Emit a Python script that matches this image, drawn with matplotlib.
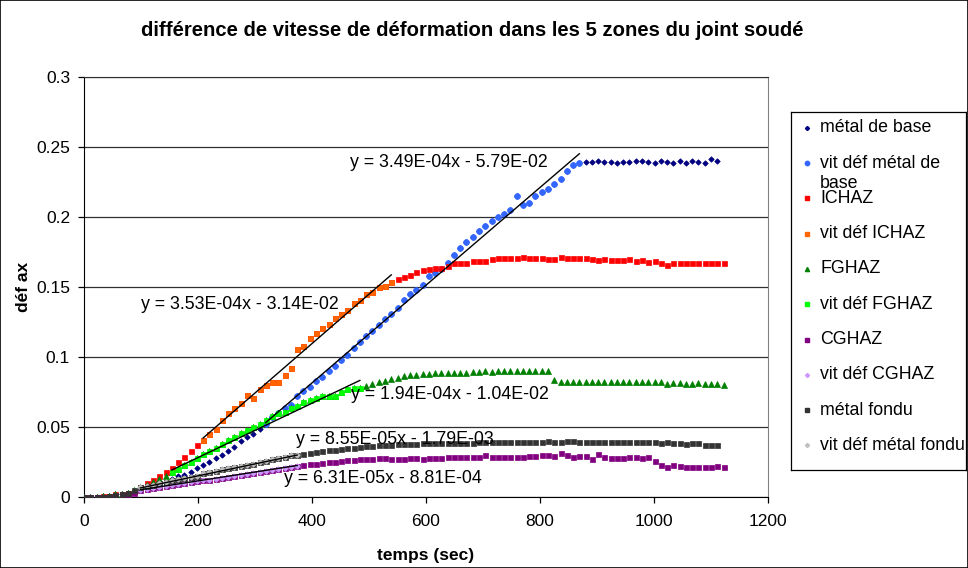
import matplotlib
matplotlib.use("Agg")
import matplotlib.pyplot as plt
from matplotlib.patches import Rectangle
from matplotlib.ticker import FuncFormatter

plt.rcParams['font.family'] = ['Liberation Sans', 'DejaVu Sans']

# time grid (sec), one reading every ~11 s
temps = list(range(0, 1123, 11))

# deformation readings per zone
metal_base = [0.000, 0.000, 0.000, 0.001, 0.001, 0.002, 0.002, 0.003, 0.004, 0.005,
              0.006, 0.007, 0.009, 0.011, 0.013, 0.015, 0.016, 0.018, 0.021, 0.023,
              0.025, 0.028, 0.030, 0.033, 0.036, 0.040, 0.043, 0.045, 0.049, 0.052,
              0.057, 0.060, 0.064, 0.066, 0.072, 0.076, 0.079, 0.083, 0.086, 0.090,
              0.094, 0.098, 0.102, 0.107, 0.111, 0.115, 0.119, 0.123, 0.127, 0.131,
              0.135, 0.141, 0.145, 0.148, 0.152, 0.158, 0.160, 0.163, 0.167, 0.173,
              0.178, 0.182, 0.186, 0.190, 0.194, 0.197, 0.200, 0.202, 0.205, 0.215,
              0.209, 0.210, 0.215, 0.218, 0.220, 0.224, 0.227, 0.233, 0.237, 0.239,
              0.2397, 0.2397, 0.2405, 0.2397, 0.2395, 0.2386, 0.2395, 0.2395, 0.2400, 0.2400,
              0.2395, 0.2386, 0.2400, 0.2395, 0.2390, 0.2400, 0.2390, 0.2405, 0.2397, 0.2386,
              0.2414, 0.2400]

ichaz = [0.000, 0.000, 0.000, 0.001, 0.001, 0.002, 0.002, 0.003, 0.004, 0.007,
         0.010, 0.012, 0.015, 0.018, 0.021, 0.025, 0.029, 0.033, 0.037, 0.041,
         0.045, 0.049, 0.055, 0.060, 0.064, 0.067, 0.073, 0.071, 0.077, 0.080,
         0.082, 0.082, 0.087, 0.092, 0.106, 0.108, 0.114, 0.117, 0.121, 0.124,
         0.128, 0.131, 0.134, 0.139, 0.141, 0.145, 0.147, 0.150, 0.151, 0.154,
         0.156, 0.157, 0.159, 0.161, 0.162, 0.163, 0.164, 0.164, 0.165, 0.167,
         0.167, 0.167, 0.169, 0.169, 0.169, 0.170, 0.171, 0.171, 0.171, 0.171,
         0.172, 0.171, 0.171, 0.171, 0.170, 0.170, 0.172, 0.171, 0.171, 0.171,
         0.171, 0.170, 0.1695, 0.1705, 0.1695, 0.1695, 0.1695, 0.170, 0.169, 0.1695,
         0.168, 0.169, 0.1675, 0.166, 0.1675, 0.1675, 0.1675, 0.1675, 0.1675, 0.1675,
         0.1675, 0.167, 0.1675]

fghaz = [0.000, 0.000, 0.000, 0.001, 0.001, 0.002, 0.002, 0.003, 0.005, 0.007,
         0.009, 0.011, 0.013, 0.015, 0.018, 0.020, 0.023, 0.025, 0.028, 0.031,
         0.033, 0.035, 0.038, 0.041, 0.043, 0.046, 0.048, 0.050, 0.052, 0.055,
         0.058, 0.060, 0.061, 0.064, 0.065, 0.068, 0.0695, 0.071, 0.072, 0.0725,
         0.072, 0.0755, 0.077, 0.078, 0.078, 0.0795, 0.081, 0.082, 0.083, 0.0845,
         0.0855, 0.0865, 0.087, 0.0875, 0.088, 0.088, 0.0885, 0.0885, 0.089, 0.089,
         0.089, 0.089, 0.0895, 0.0895, 0.090, 0.0895, 0.090, 0.090, 0.090, 0.090,
         0.0905, 0.0905, 0.0905, 0.0905, 0.0905, 0.084, 0.0824, 0.0824, 0.0824, 0.0824,
         0.0824, 0.0824, 0.0824, 0.0824, 0.0826, 0.0826, 0.0824, 0.0824, 0.0824, 0.0824,
         0.0824, 0.0824, 0.0821, 0.0812, 0.0817, 0.0814, 0.0812, 0.0812, 0.0814, 0.0812,
         0.0812, 0.0812, 0.0805]

cghaz = [0.000, 0.000, 0.000, 0.000, 0.0005, 0.001, 0.0015, 0.002, 0.003, 0.005,
         0.006, 0.0066, 0.0073, 0.008, 0.0087, 0.0094, 0.010, 0.0107, 0.0114, 0.012,
         0.0127, 0.0133, 0.014, 0.0147, 0.0154, 0.016, 0.0167, 0.0174, 0.018, 0.0187,
         0.0194, 0.020, 0.0207, 0.0214, 0.022, 0.023, 0.0235, 0.024, 0.0245, 0.025,
         0.0255, 0.026, 0.0265, 0.0267, 0.027, 0.027, 0.0275, 0.028, 0.0283, 0.027,
         0.027, 0.0275, 0.0279, 0.0279, 0.0276, 0.0282, 0.0282, 0.0282, 0.0286, 0.0286,
         0.029, 0.0286, 0.029, 0.029, 0.0302, 0.029, 0.0286, 0.0290, 0.0286, 0.0290,
         0.0290, 0.0295, 0.0295, 0.0302, 0.0302, 0.0295, 0.0314, 0.0302, 0.0290, 0.0295,
         0.0295, 0.0273, 0.0307, 0.0286, 0.0279, 0.0279, 0.0279, 0.0286, 0.0286, 0.0279,
         0.0286, 0.0259, 0.0231, 0.0219, 0.0229, 0.0224, 0.0219, 0.0219, 0.0219, 0.0219,
         0.0219, 0.0224, 0.0219]

metal_fondu = [0.000, 0.000, 0.000, 0.0005, 0.001, 0.0015, 0.002, 0.003, 0.0055, 0.007,
               0.008, 0.009, 0.010, 0.011, 0.012, 0.013, 0.0135, 0.0145, 0.0155, 0.017,
               0.018, 0.019, 0.020, 0.021, 0.0215, 0.022, 0.023, 0.024, 0.025, 0.026,
               0.027, 0.028, 0.029, 0.030, 0.030, 0.031, 0.0315, 0.0325, 0.033, 0.0335,
               0.034, 0.0345, 0.035, 0.0355, 0.036, 0.0365, 0.0367, 0.037, 0.037, 0.0375,
               0.0379, 0.038, 0.038, 0.0383, 0.0386, 0.0386, 0.0386, 0.0388, 0.039, 0.039,
               0.039, 0.039, 0.039, 0.0395, 0.0395, 0.0395, 0.0397, 0.0397, 0.0397, 0.0397,
               0.0397, 0.0397, 0.0397, 0.0397, 0.0402, 0.0397, 0.0397, 0.0402, 0.0402, 0.0397,
               0.0397, 0.0397, 0.0397, 0.0397, 0.0392, 0.0397, 0.0392, 0.0392, 0.0392, 0.0392,
               0.0392, 0.0392, 0.0386, 0.0392, 0.0386, 0.0386, 0.0379, 0.0386, 0.0386, 0.0376,
               0.0376, 0.0376]

# index range (first, last) of the linear part used for each "vit déf" series
ranges = [(29, 79), (19, 49), (14, 44), (9, 34), (9, 34)]
# trendline coefficients (slope, intercept)
slopes = [3.49e-4, 3.53e-4, 1.94e-4, 6.31e-5, 8.55e-5]
intercepts = [-5.79e-2, -3.14e-2, -1.04e-2, -8.81e-4, -1.79e-3]
eq_texts = ["y = 3.49E-04x - 5.79E-02", "y = 3.53E-04x - 3.14E-02",
            "y = 1.94E-04x - 1.04E-02", "y = 6.31E-05x - 8.81E-04",
            "y = 8.55E-05x - 1.79E-03"]
eq_pos = [(467, 0.2388), (100, 0.1374), (468, 0.0731), (351, 0.0131), (372, 0.0416)]

zones = [metal_base, ichaz, fghaz, cghaz, metal_fondu]
labels = ["métal de base", "vit déf métal de base", "ICHAZ", "vit déf ICHAZ",
          "FGHAZ", "vit déf FGHAZ", "CGHAZ", "vit déf CGHAZ",
          "métal fondu", "vit déf métal fondu"]
colors = ["#000080", "#3366FF", "#FF0000", "#FF6600", "#008000", "#00FF00",
          "#800080", "#CC99FF", "#333333", "#C0C0C0"]
markers = ["D", "o", "s", "s", "^", "s", "s", "D", "s", "D"]
msizes = [2.8, 4.2, 3.6, 3.6, 4.0, 3.6, 3.6, 2.8, 3.6, 2.8]

fig = plt.figure(figsize=(9.68, 5.68), dpi=100)
fig.patches.append(Rectangle((0, 0), 1, 1, transform=fig.transFigure,
                             fill=False, ec="black", lw=1.2))
ax = fig.add_axes([84 / 968, 1 - 497.3 / 568, 684 / 968, 420 / 568])

for i, y in enumerate(zones):
    t = temps[:len(y)]
    c_main, c_vit = colors[2 * i], colors[2 * i + 1]
    ax.plot(t, y, linestyle="none", marker=markers[2 * i], ms=msizes[2 * i],
            color=c_main, mec=c_main, mew=0.5, zorder=3 + i)
    a, b = ranges[i]
    ax.plot(t[a:b + 1], y[a:b + 1], linestyle="none", marker=markers[2 * i + 1],
            ms=msizes[2 * i + 1], color=c_vit, mec=c_vit, mew=0.5, zorder=3.5 + i)

for i, y in enumerate(zones):
    a, b = ranges[i]
    x0, x1 = temps[a], temps[b]
    ax.plot([x0, x1], [slopes[i] * x0 + intercepts[i], slopes[i] * x1 + intercepts[i]],
            color="black", lw=1.0, zorder=10)
    ax.text(eq_pos[i][0], eq_pos[i][1], eq_texts[i], fontsize=12.8,
            ha="left", va="center", zorder=11)

ax.set_xlim(0, 1200)
ax.set_ylim(0, 0.3)
ax.set_xticks(range(0, 1201, 200))
ax.set_yticks([0, 0.05, 0.1, 0.15, 0.2, 0.25, 0.3])
ax.yaxis.set_major_formatter(FuncFormatter(lambda v, p: "%g" % round(v, 2)))
ax.yaxis.grid(True, color="#303030", lw=0.9)
ax.set_axisbelow(True)
ax.tick_params(direction="out", length=4, width=0.9, labelsize=12.5)
ax.tick_params(axis="x", pad=8)
ax.tick_params(axis="y", pad=6)
ax.spines["left"].set_color("black")
ax.spines["bottom"].set_color("black")
ax.spines["right"].set_color("#808080")
ax.spines["top"].set_color("#303030")

ax.set_xlabel("temps (sec)", fontsize=12.5, fontweight="bold", labelpad=14)
ax.set_ylabel("déf ax", fontsize=12.5, fontweight="bold", labelpad=4)
fig.text(472 / 968, 1 - 30 / 568, "différence de vitesse de déformation dans les 5 zones du joint soudé",
         ha="center", va="center", fontsize=14.6, fontweight="bold")

# legend box drawn like the spreadsheet one
lg = fig.add_axes([791 / 968, 1 - 470 / 568, 175 / 968, 358 / 568])
lg.set_xlim(0, 175)
lg.set_ylim(358, 0)
lg.set_xticks([])
lg.set_yticks([])
for s in lg.spines.values():
    s.set_color("black")
    s.set_linewidth(0.9)
for j, lab in enumerate(labels):
    yc = 15.7 + 35.3 * j
    lg.plot([15.7], [yc], marker=markers[j], ms=msizes[j] * 0.75, color=colors[j],
            mec=colors[j], linestyle="none")
    if lab == "vit déf métal de base":
        lg.text(29, yc, "vit déf métal de", fontsize=12.8, va="center", ha="left")
        lg.text(29, yc + 21, "base", fontsize=12.8, va="center", ha="left")
    else:
        lg.text(29, yc, lab, fontsize=12.8, va="center", ha="left")

fig.savefig("out.png", dpi=100)
